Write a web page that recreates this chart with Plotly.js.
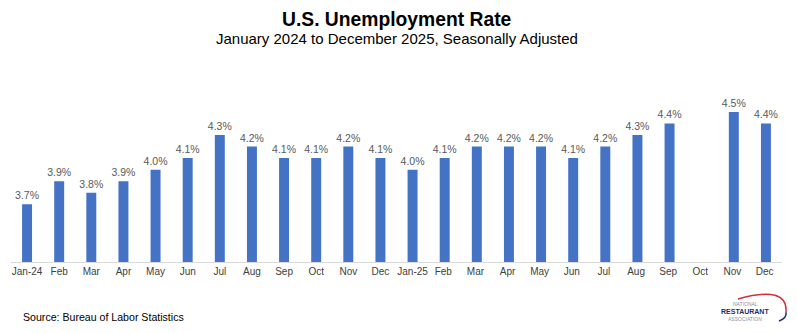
<!DOCTYPE html>
<html>
<head>
<meta charset="utf-8">
<script src="https://cdn.plot.ly/plotly-3.0.1.min.js"></script>
<style>html,body{margin:0;padding:0;background:#fff;}#chart{width:797px;height:333px;}</style>
</head>
<body>
<div id="chart"></div>
<script>
const months = ["Jan-24","Feb","Mar","Apr","May","Jun","Jul","Aug","Sep","Oct","Nov","Dec",
                "Jan-25","Feb ","Mar ","Apr ","May ","Jun ","Jul ","Aug ","Sep ","Oct ","Nov ","Dec "];
const rate2024 = [3.7,3.9,3.8,3.9,4.0,4.1,4.3,4.2,4.1,4.1,4.2,4.1];
const rate2025 = [4.0,4.1,4.2,4.2,4.2,4.1,4.2,4.3,4.4,null,4.5,4.4];
const rates = rate2024.concat(rate2025);

const F = '"Liberation Sans", Arial, sans-serif';

const trace = {
  type: 'bar',
  x: months,
  y: rates,
  marker: {color: '#4472C4'},
  text: rates.map(v => v === null ? '' : v.toFixed(1) + '%'),
  textposition: 'outside',
  constraintext: 'none',
  cliponaxis: false,
  textfont: {family: F, size: 10.5, color: '#595959'},
  hoverinfo: 'x+y'
};

const layout = {
  width: 797, height: 333,
  margin: {l: 11, r: 15, t: 90, b: 71},
  paper_bgcolor: '#fff', plot_bgcolor: '#fff',
  bargap: 0.69,
  showlegend: false,
  xaxis: {
    type: 'category',
    showline: true, linecolor: '#d9d9d9', linewidth: 1,
    ticks: '', showgrid: false,
    tickfont: {family: F, size: 10, color: '#404040'}
  },
  yaxis: {
    range: [3.2, 4.69],
    visible: false, showgrid: false, zeroline: false
  },
  annotations: [
    {text: '<b>U.S. Unemployment Rate</b>', xref: 'paper', yref: 'paper', x: 0.5, y: 1, xanchor: 'center', yanchor: 'middle',
     yshift: 71, showarrow: false, font: {family: F, size: 19.3, color: '#000'}},
    {text: 'January 2024 to December 2025, Seasonally Adjusted', xref: 'paper', yref: 'paper', x: 0.5, y: 1, xanchor: 'center', yanchor: 'middle',
     yshift: 52, showarrow: false, font: {family: F, size: 15, color: '#000'}},
    {text: 'Source: Bureau of Labor Statistics', xref: 'paper', yref: 'paper', x: 0, y: 0, xanchor: 'left', yanchor: 'middle',
     xshift: 10, yshift: -55, showarrow: false, font: {family: F, size: 10.6, color: '#000'}},
    {text: 'NATIONAL', xref: 'paper', yref: 'paper', x: 1, y: 0, xanchor: 'center', yanchor: 'middle',
     xshift: -37, yshift: -41.5, showarrow: false, font: {family: F, size: 5, color: '#8a8fa8'}},
    {text: '<b>RESTAURANT</b>', xref: 'paper', yref: 'paper', x: 1, y: 0, xanchor: 'center', yanchor: 'middle',
     xshift: -37, yshift: -49, showarrow: false, font: {family: F, size: 7, color: '#1f2d6b'}},
    {text: 'ASSOCIATION', xref: 'paper', yref: 'paper', x: 1, y: 0, xanchor: 'center', yanchor: 'middle',
     xshift: -37, yshift: -56.5, showarrow: false, font: {family: F, size: 5, color: '#8a8fa8'}}
  ],
  shapes: [
    {type: 'path', xref: 'paper', yref: 'paper',
     path: 'M 0.9429 -0.215 Q 1.0078 -0.134 1.0052 -0.291',
     line: {color: '#d0323c', width: 1.5}},
    {type: 'path', xref: 'paper', yref: 'paper',
     path: 'M 1.0052 -0.291 Q 1.0065 -0.326 0.9961 -0.343',
     line: {color: '#1f2d6b', width: 1.5}}
  ]
};

Plotly.newPlot('chart', [trace], layout, {displayModeBar: false, staticPlot: true});
</script>
</body>
</html>
